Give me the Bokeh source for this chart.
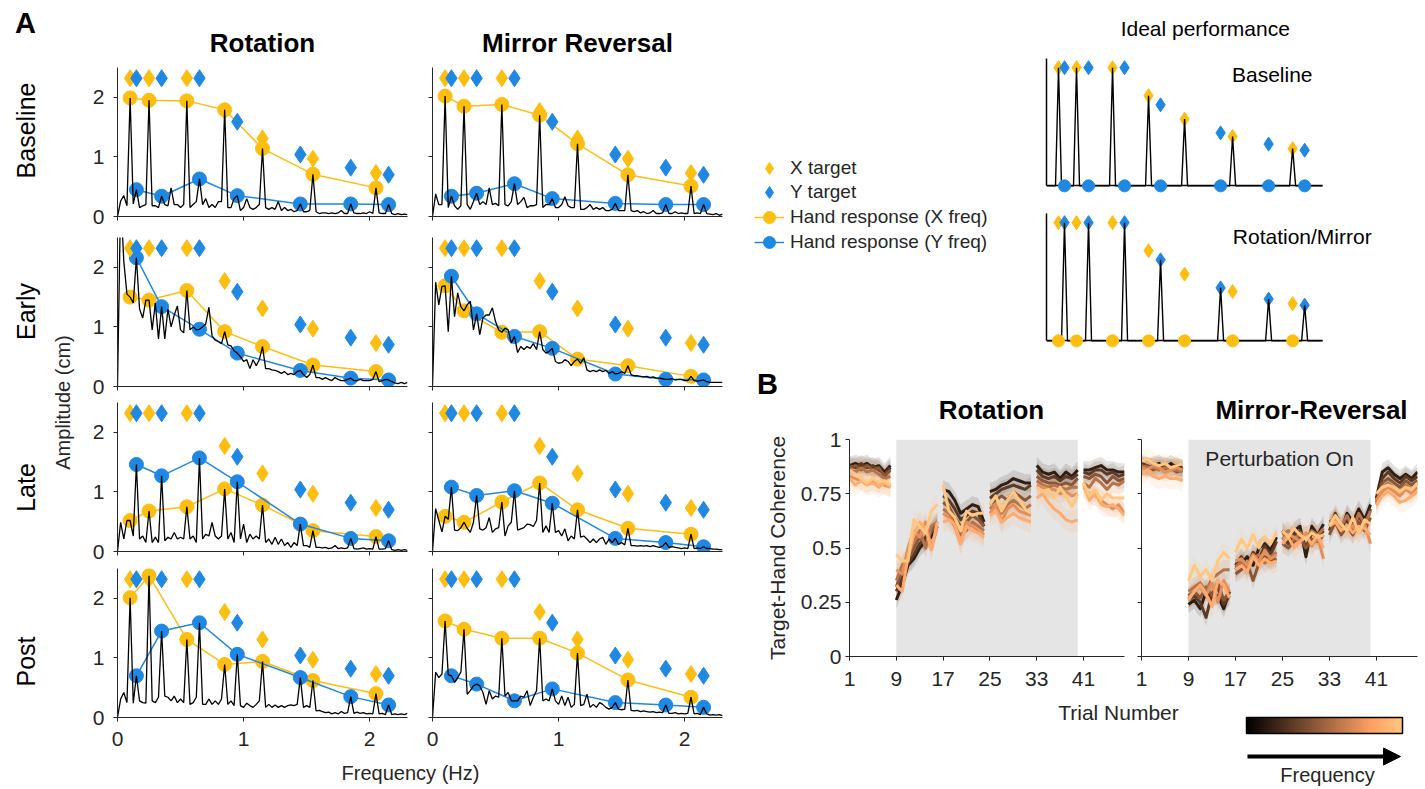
import numpy as np
from bokeh.plotting import figure
from bokeh.layouts import row, column
from bokeh.models import (Range1d, FixedTicker, Label, BoxAnnotation, Legend, LegendItem,
                          ColorBar, LinearColorMapper, Arrow, NormalHead)
from bokeh.embed import file_html
from bokeh.resources import INLINE

FONT = "Liberation Sans"
AX = "#262626"
YEL = "#FDBE12"
BLU = "#1F88E2"

# ---------------- DATA ----------------
freq_grid = [round(i * 0.025, 3) for i in range(93)]
x_freqs = [0.1, 0.25, 0.55, 0.85, 1.15, 1.55, 2.05]
y_freqs = [0.15, 0.35, 0.65, 0.95, 1.45, 1.85, 2.15]
x_target_amp = [2.32, 2.32, 2.32, 1.77, 1.31, 0.97, 0.73]
y_target_amp = [2.32, 2.32, 2.32, 1.59, 1.04, 0.82, 0.70]

rot_baseline_xhand = [1.99, 1.95, 1.94, 1.79, 1.14, 0.71, 0.48]
rot_baseline_yhand = [0.45, 0.34, 0.63, 0.35, 0.21, 0.21, 0.20]
rot_baseline_spec = [
    0, 0.26, 0.35, 0.18, 1.99, 0.21, 0.45, 0.15, 0.18, 0.20,
    1.95, 0.18, 0.18, 0.15, 0.34, 0.20, 0.18, 0.48, 0.20, 0.20,
    0.15, 0.20, 1.94, 0.15, 0.20, 0.25, 0.63, 0.20, 0.30, 0.15,
    0.20, 0.15, 0.25, 0.25, 1.79, 0.15, 0.15, 0.30, 0.35, 0.10,
    0.15, 0.30, 0.15, 0.12, 0.15, 0.20, 1.14, 0.15, 0.12, 0.15,
    0.12, 0.25, 0.10, 0.15, 0.10, 0.12, 0.08, 0.10, 0.21, 0.08,
    0.08, 0.10, 0.71, 0.08, 0.05, 0.06, 0.06, 0.05, 0.06, 0.05,
    0.06, 0.10, 0.05, 0.05, 0.21, 0.06, 0.05, 0.05, 0.06, 0.05,
    0.08, 0.05, 0.48, 0.06, 0.05, 0.05, 0.20, 0.05, 0.03, 0.05,
    0.03, 0.04, 0.03]

mir_baseline_xhand = [2.02, 1.85, 1.88, 1.70, 1.22, 0.70, 0.51]
mir_baseline_yhand = [0.34, 0.39, 0.55, 0.30, 0.22, 0.20, 0.20]
mir_baseline_spec = [
    0, 0.38, 0.20, 0.20, 2.02, 0.15, 0.34, 0.18, 0.12, 0.18,
    1.85, 0.20, 0.12, 0.25, 0.39, 0.20, 0.25, 0.20, 0.48, 0.20,
    0.22, 0.18, 1.88, 0.20, 0.18, 0.25, 0.55, 0.20, 0.25, 0.32,
    0.15, 0.18, 0.18, 0.20, 1.70, 0.15, 0.20, 0.20, 0.30, 0.15,
    0.15, 0.20, 0.33, 0.18, 0.15, 0.15, 1.22, 0.12, 0.12, 0.15,
    0.20, 0.12, 0.15, 0.12, 0.15, 0.10, 0.10, 0.12, 0.22, 0.10,
    0.10, 0.10, 0.70, 0.10, 0.08, 0.10, 0.06, 0.08, 0.05, 0.06,
    0.10, 0.05, 0.05, 0.06, 0.20, 0.05, 0.05, 0.08, 0.05, 0.06,
    0.05, 0.05, 0.51, 0.05, 0.06, 0.05, 0.20, 0.05, 0.04, 0.03,
    0.05, 0.02, 0.04]

rot_early_xhand = [1.50, 1.45, 1.61, 0.92, 0.67, 0.36, 0.25]
rot_early_yhand = [2.16, 1.34, 0.96, 0.56, 0.27, 0.14, 0.11]
rot_early_spec = [
    0, 3.20, 2.10, 1.55, 1.50, 1.40, 2.16, 1.30, 1.15, 1.45,
    1.45, 0.95, 1.40, 0.80, 1.34, 0.80, 1.30, 1.00, 1.20, 1.35,
    0.95, 0.90, 1.61, 0.95, 1.00, 0.95, 0.96, 1.00, 1.05, 1.33,
    0.85, 0.78, 0.75, 0.72, 0.92, 0.70, 0.68, 0.60, 0.56, 0.50,
    0.42, 0.45, 0.30, 0.45, 0.35, 0.45, 0.67, 0.30, 0.30, 0.28,
    0.27, 0.25, 0.22, 0.25, 0.20, 0.22, 0.20, 0.25, 0.27, 0.20,
    0.15, 0.20, 0.36, 0.15, 0.15, 0.12, 0.15, 0.12, 0.10, 0.15,
    0.12, 0.10, 0.10, 0.12, 0.14, 0.10, 0.10, 0.12, 0.10, 0.10,
    0.10, 0.12, 0.25, 0.08, 0.10, 0.12, 0.11, 0.08, 0.06, 0.05,
    0.07, 0.05, 0.07]

mir_early_xhand = [1.69, 1.27, 0.91, 0.92, 0.46, 0.35, 0.17]
mir_early_yhand = [1.85, 1.22, 0.84, 0.64, 0.21, 0.12, 0.11]
mir_early_spec = [
    0, 1.75, 1.37, 1.68, 1.69, 0.92, 1.85, 1.17, 1.57, 1.34,
    1.27, 1.37, 1.43, 0.95, 1.22, 0.87, 1.15, 1.20, 1.20, 1.32,
    1.09, 0.95, 0.91, 0.98, 0.95, 0.73, 0.84, 0.57, 0.67, 0.62,
    0.67, 0.64, 0.72, 0.62, 0.92, 0.62, 0.56, 0.59, 0.64, 0.42,
    0.39, 0.40, 0.45, 0.42, 0.35, 0.42, 0.46, 0.39, 0.48, 0.28,
    0.25, 0.27, 0.25, 0.28, 0.25, 0.27, 0.22, 0.25, 0.21, 0.22,
    0.25, 0.22, 0.35, 0.20, 0.18, 0.18, 0.17, 0.16, 0.17, 0.15,
    0.16, 0.14, 0.14, 0.13, 0.12, 0.12, 0.13, 0.11, 0.12, 0.12,
    0.10, 0.10, 0.17, 0.10, 0.09, 0.10, 0.11, 0.08, 0.07, 0.07,
    0.07, 0.07, 0.07]

rot_late_xhand = [0.52, 0.68, 0.75, 1.05, 0.78, 0.35, 0.25]
rot_late_yhand = [1.46, 1.27, 1.57, 1.17, 0.46, 0.22, 0.18]
rot_late_spec = [
    0, 0.49, 0.21, 0.52, 0.52, 0.26, 1.46, 0.21, 0.26, 0.15,
    0.68, 0.15, 0.24, 0.15, 1.27, 0.18, 0.24, 0.21, 0.32, 0.21,
    0.24, 0.21, 0.75, 0.21, 0.26, 0.15, 1.57, 0.21, 0.29, 0.26,
    0.49, 0.26, 0.21, 0.26, 1.05, 0.21, 0.32, 0.15, 1.17, 0.21,
    0.46, 0.15, 0.29, 0.21, 0.26, 0.21, 0.78, 0.15, 0.21, 0.12,
    0.24, 0.12, 0.21, 0.10, 0.15, 0.07, 0.15, 0.10, 0.46, 0.10,
    0.10, 0.07, 0.35, 0.07, 0.07, 0.06, 0.07, 0.05, 0.06, 0.10,
    0.05, 0.06, 0.05, 0.06, 0.22, 0.05, 0.04, 0.05, 0.06, 0.04,
    0.05, 0.04, 0.25, 0.04, 0.04, 0.05, 0.18, 0.03, 0.02, 0.03,
    0.02, 0.03, 0.02]

mir_late_xhand = [0.59, 0.49, 0.83, 1.15, 0.70, 0.39, 0.29]
mir_late_yhand = [1.08, 0.94, 1.02, 0.81, 0.22, 0.15, 0.08]
mir_late_spec = [
    0, 0.72, 0.52, 0.33, 0.59, 0.54, 1.08, 0.36, 0.35, 0.40,
    0.49, 0.39, 0.32, 0.49, 0.94, 0.38, 0.36, 0.40, 0.57, 0.32,
    0.38, 0.40, 0.83, 0.26, 0.43, 0.49, 1.02, 0.36, 0.38, 0.40,
    0.46, 0.45, 0.42, 0.52, 1.15, 0.32, 0.43, 0.32, 0.81, 0.32,
    0.35, 0.26, 0.38, 0.18, 0.26, 0.21, 0.70, 0.24, 0.26, 0.21,
    0.15, 0.21, 0.15, 0.21, 0.24, 0.12, 0.21, 0.15, 0.22, 0.12,
    0.15, 0.11, 0.39, 0.10, 0.10, 0.09, 0.10, 0.09, 0.10, 0.08,
    0.10, 0.08, 0.07, 0.09, 0.15, 0.07, 0.08, 0.07, 0.06, 0.05,
    0.06, 0.05, 0.29, 0.05, 0.06, 0.05, 0.08, 0.05, 0.05, 0.04,
    0.04, 0.03, 0.03]

rot_post_xhand = [2.01, 2.38, 1.31, 0.89, 0.94, 0.62, 0.40]
rot_post_yhand = [0.70, 1.45, 1.59, 1.06, 0.67, 0.35, 0.21]
rot_post_spec = [
    0, 0.31, 0.42, 0.25, 2.01, 0.24, 0.70, 0.28, 0.25, 0.24,
    2.38, 0.28, 0.25, 0.34, 1.45, 0.36, 0.34, 0.28, 0.36, 0.25,
    0.31, 0.25, 1.31, 0.22, 0.25, 0.34, 1.59, 0.22, 0.22, 0.31,
    0.22, 0.28, 0.22, 0.31, 0.89, 0.22, 0.28, 0.20, 1.06, 0.20,
    0.17, 0.24, 0.20, 0.17, 0.22, 0.28, 0.94, 0.17, 0.22, 0.17,
    0.21, 0.17, 0.20, 0.17, 0.20, 0.21, 0.20, 0.22, 0.67, 0.17,
    0.20, 0.17, 0.62, 0.11, 0.12, 0.10, 0.08, 0.09, 0.06, 0.08,
    0.06, 0.10, 0.07, 0.08, 0.35, 0.07, 0.09, 0.07, 0.08, 0.06,
    0.07, 0.06, 0.40, 0.06, 0.07, 0.05, 0.21, 0.05, 0.06, 0.05,
    0.06, 0.05, 0.07]

mir_post_xhand = [1.62, 1.48, 1.33, 1.33, 1.08, 0.63, 0.34]
mir_post_yhand = [0.70, 0.56, 0.28, 0.48, 0.25, 0.21, 0.17]
mir_post_spec = [
    0, 0.76, 0.67, 0.73, 1.62, 0.72, 0.70, 0.59, 0.67, 0.76,
    1.48, 0.39, 0.45, 0.53, 0.56, 0.53, 0.42, 0.22, 0.45, 0.31,
    0.36, 0.34, 1.33, 0.36, 0.42, 0.28, 0.28, 0.28, 0.36, 0.34,
    0.45, 0.20, 0.34, 0.45, 1.33, 0.28, 0.31, 0.28, 0.48, 0.28,
    0.22, 0.36, 0.20, 0.34, 0.17, 0.22, 1.08, 0.20, 0.22, 0.39,
    0.17, 0.22, 0.17, 0.25, 0.22, 0.17, 0.14, 0.17, 0.25, 0.14,
    0.13, 0.14, 0.63, 0.12, 0.11, 0.12, 0.10, 0.11, 0.10, 0.09,
    0.10, 0.08, 0.09, 0.08, 0.21, 0.07, 0.07, 0.08, 0.06, 0.07,
    0.06, 0.07, 0.34, 0.06, 0.07, 0.05, 0.17, 0.06, 0.04, 0.05,
    0.04, 0.05, 0.03]

# ideal performance
ideal_baseline_xhand = [2.32, 2.32, 2.32, 1.77, 1.31, 0.97, 0.73]
ideal_baseline_yhand = [0, 0, 0, 0, 0, 0, 0]
ideal_perturb_xhand = [0, 0, 0, 0, 0, 0, 0]
ideal_perturb_yhand = [2.32, 2.32, 2.32, 1.59, 1.04, 0.82, 0.70]

# panel B: coherence per frequency (low -> high), trials 1..48
trials = list(range(1, 49))
trial_ticks = [1, 9, 17, 25, 33, 41]
perturb_trials = [9, 40]
rot_coh = [
    [0.88, 0.89, 0.88, 0.89, 0.87, 0.88, 0.85, 0.88, 0.26, 0.33, 0.42, 0.45, 0.50, 0.53, 0.55, 0.60,
     0.77, 0.76, 0.72, 0.66, 0.68, 0.70, 0.69, 0.62, 0.76, 0.77, 0.79, 0.80, 0.82, 0.81, 0.80, 0.80,
     0.88, 0.85, 0.84, 0.85, 0.82, 0.85, 0.83, 0.86, 0.86, 0.86, 0.87, 0.88, 0.86, 0.86, 0.85, 0.85],
    [0.88, 0.87, 0.89, 0.87, 0.88, 0.86, 0.84, 0.87, 0.30, 0.36, 0.43, 0.47, 0.52, 0.55, 0.58, 0.62,
     0.74, 0.72, 0.68, 0.63, 0.65, 0.67, 0.66, 0.60, 0.73, 0.75, 0.77, 0.78, 0.79, 0.78, 0.77, 0.79,
     0.86, 0.83, 0.82, 0.83, 0.81, 0.83, 0.82, 0.84, 0.85, 0.84, 0.86, 0.86, 0.84, 0.85, 0.83, 0.84],
    [0.87, 0.88, 0.86, 0.88, 0.86, 0.87, 0.83, 0.86, 0.32, 0.40, 0.45, 0.50, 0.55, 0.52, 0.58, 0.61,
     0.71, 0.69, 0.64, 0.60, 0.62, 0.65, 0.63, 0.60, 0.70, 0.72, 0.74, 0.72, 0.76, 0.74, 0.72, 0.74,
     0.83, 0.81, 0.80, 0.80, 0.79, 0.80, 0.79, 0.82, 0.83, 0.82, 0.84, 0.83, 0.80, 0.83, 0.81, 0.82],
    [0.86, 0.85, 0.87, 0.85, 0.86, 0.84, 0.82, 0.83, 0.35, 0.42, 0.46, 0.53, 0.58, 0.50, 0.60, 0.62,
     0.68, 0.66, 0.62, 0.56, 0.58, 0.62, 0.60, 0.58, 0.68, 0.70, 0.66, 0.70, 0.72, 0.70, 0.68, 0.70,
     0.81, 0.79, 0.78, 0.79, 0.78, 0.77, 0.78, 0.78, 0.80, 0.78, 0.82, 0.80, 0.77, 0.80, 0.79, 0.81],
    [0.83, 0.82, 0.81, 0.80, 0.81, 0.80, 0.79, 0.78, 0.40, 0.38, 0.50, 0.58, 0.55, 0.62, 0.50, 0.60,
     0.66, 0.64, 0.60, 0.52, 0.62, 0.60, 0.58, 0.56, 0.66, 0.70, 0.62, 0.68, 0.70, 0.67, 0.66, 0.65,
     0.79, 0.78, 0.77, 0.77, 0.75, 0.76, 0.74, 0.75, 0.78, 0.75, 0.74, 0.72, 0.70, 0.68, 0.70, 0.66],
    [0.82, 0.79, 0.81, 0.79, 0.80, 0.78, 0.80, 0.78, 0.33, 0.30, 0.46, 0.56, 0.62, 0.59, 0.49, 0.62,
     0.62, 0.63, 0.61, 0.52, 0.60, 0.58, 0.57, 0.55, 0.65, 0.67, 0.62, 0.64, 0.66, 0.64, 0.63, 0.62,
     0.73, 0.75, 0.71, 0.68, 0.66, 0.63, 0.62, 0.63, 0.79, 0.72, 0.75, 0.70, 0.69, 0.70, 0.68, 0.65],
    [0.86, 0.84, 0.82, 0.80, 0.82, 0.80, 0.81, 0.79, 0.47, 0.44, 0.44, 0.63, 0.60, 0.57, 0.67, 0.70,
     0.79, 0.67, 0.64, 0.58, 0.67, 0.65, 0.66, 0.66, 0.70, 0.74, 0.67, 0.72, 0.76, 0.72, 0.68, 0.66,
     0.78, 0.76, 0.77, 0.73, 0.78, 0.74, 0.69, 0.75, 0.80, 0.74, 0.77, 0.72, 0.75, 0.73, 0.73, 0.73],
]
mir_coh = [
    [0.88, 0.87, 0.88, 0.89, 0.87, 0.89, 0.87, 0.87, 0.24, 0.26, 0.22, 0.30, 0.27, 0.28, 0.22, 0.30,
     0.40, 0.43, 0.46, 0.42, 0.50, 0.52, 0.49, 0.55, 0.58, 0.54, 0.58, 0.60, 0.46, 0.60, 0.56, 0.61,
     0.60, 0.64, 0.58, 0.66, 0.62, 0.68, 0.63, 0.70, 0.73, 0.85, 0.87, 0.84, 0.82, 0.84, 0.82, 0.85],
    [0.89, 0.88, 0.87, 0.88, 0.88, 0.87, 0.88, 0.86, 0.26, 0.28, 0.25, 0.18, 0.29, 0.32, 0.24, 0.28,
     0.42, 0.46, 0.41, 0.48, 0.45, 0.51, 0.47, 0.53, 0.55, 0.52, 0.56, 0.58, 0.50, 0.57, 0.55, 0.58,
     0.58, 0.66, 0.60, 0.63, 0.58, 0.65, 0.60, 0.68, 0.72, 0.82, 0.85, 0.82, 0.80, 0.83, 0.81, 0.83],
    [0.87, 0.88, 0.86, 0.87, 0.86, 0.87, 0.85, 0.86, 0.28, 0.30, 0.27, 0.32, 0.28, 0.34, 0.26, 0.30,
     0.38, 0.40, 0.43, 0.35, 0.43, 0.46, 0.44, 0.45, 0.52, 0.50, 0.53, 0.55, 0.50, 0.54, 0.53, 0.56,
     0.56, 0.62, 0.56, 0.60, 0.56, 0.62, 0.58, 0.64, 0.71, 0.80, 0.82, 0.80, 0.78, 0.81, 0.79, 0.81],
    [0.88, 0.87, 0.87, 0.86, 0.87, 0.86, 0.86, 0.85, 0.30, 0.32, 0.34, 0.30, 0.36, 0.38, 0.40, 0.40,
     0.41, 0.44, 0.40, 0.45, 0.47, 0.43, 0.46, 0.48, 0.56, 0.58, 0.54, 0.57, 0.55, 0.58, 0.56, 0.59,
     0.62, 0.64, 0.60, 0.65, 0.59, 0.66, 0.61, 0.67, 0.70, 0.78, 0.80, 0.78, 0.76, 0.79, 0.77, 0.80],
    [0.87, 0.86, 0.88, 0.87, 0.85, 0.86, 0.87, 0.86, 0.27, 0.30, 0.32, 0.28, 0.34, 0.25, 0.35, 0.30,
     0.44, 0.45, 0.42, 0.47, 0.44, 0.49, 0.45, 0.47, 0.54, 0.56, 0.55, 0.53, 0.57, 0.51, 0.55, 0.45,
     0.61, 0.63, 0.61, 0.58, 0.60, 0.57, 0.61, 0.52, 0.72, 0.76, 0.78, 0.76, 0.74, 0.77, 0.75, 0.78],
    [0.84, 0.86, 0.83, 0.82, 0.83, 0.82, 0.82, 0.81, 0.26, 0.30, 0.33, 0.29, 0.23, 0.35, 0.33, 0.27,
     0.40, 0.42, 0.39, 0.46, 0.42, 0.45, 0.43, 0.44, 0.52, 0.55, 0.50, 0.53, 0.55, 0.52, 0.56, 0.50,
     0.60, 0.62, 0.58, 0.60, 0.57, 0.60, 0.59, 0.56, 0.70, 0.74, 0.76, 0.74, 0.71, 0.72, 0.74, 0.76],
    [0.90, 0.91, 0.89, 0.88, 0.89, 0.87, 0.88, 0.89, 0.35, 0.42, 0.37, 0.40, 0.35, 0.44, 0.48, 0.45,
     0.48, 0.54, 0.50, 0.56, 0.50, 0.55, 0.52, 0.57, 0.58, 0.55, 0.59, 0.56, 0.54, 0.57, 0.55, 0.56,
     0.60, 0.65, 0.61, 0.58, 0.64, 0.57, 0.63, 0.61, 0.75, 0.78, 0.79, 0.78, 0.76, 0.78, 0.77, 0.80],
]
rot_coh_sem = [0.04, 0.04, 0.04, 0.045, 0.045, 0.05, 0.05]
mir_coh_sem = [0.04, 0.04, 0.04, 0.045, 0.045, 0.05, 0.05]


# ---------------- helpers ----------------
def copper(t):
    r, g, b = min(1.0, 1.25 * t), min(1.0, 0.7812 * t), min(1.0, 0.4975 * t)
    return "#%02x%02x%02x" % (round(r * 255), round(g * 255), round(b * 255))


freq_colors = [copper(t) for t in np.linspace(0.15, 1.0, 7)]
copper_palette = [copper(t) for t in np.linspace(0.0, 1.0, 256)]


def base_fig(w, h, xr, yr, bl, br, bt, bb):
    p = figure(width=w, height=h, x_range=xr, y_range=yr,
               min_border_left=bl, min_border_right=br, min_border_top=bt, min_border_bottom=bb,
               toolbar_location=None, tools="", output_backend="svg", title=None)
    p.outline_line_color = None
    p.xgrid.visible = False
    p.ygrid.visible = False
    return p


def style_axis(ax, show, standoff, size="21px", color=AX, width=1):
    ax.axis_line_color = color
    ax.axis_line_width = width
    ax.major_tick_line_color = color
    ax.minor_tick_line_color = None
    ax.major_tick_out = 4
    ax.major_tick_in = 0
    ax.major_label_text_font = FONT
    if show:
        ax.major_label_text_color = AX
        ax.major_label_text_font_size = size
        ax.major_label_standoff = standoff
    else:
        ax.major_label_text_color = None
        ax.major_label_text_font_size = "0px"
        ax.major_label_standoff = 0


def canvas(w, h, x0, y0):
    # a text-only panel whose data coordinates are page pixels
    p = figure(width=w, height=h, x_range=Range1d(x0, x0 + w), y_range=Range1d(y0 + h, y0),
               x_axis_type=None, y_axis_type=None, min_border_left=0, min_border_right=0,
               min_border_top=0, min_border_bottom=0, toolbar_location=None, tools="",
               output_backend="svg", title=None)
    p.outline_line_color = None
    return p


def text(p, x, y, s, size, bold=False, angle=0.0, align="center", color="#000000"):
    p.add_layout(Label(x=x, y=y, text=s, text_font=FONT, text_font_size=size,
                       text_font_style="bold" if bold else "normal", text_align=align,
                       text_baseline="middle", angle=angle, text_color=color))


def amp_panel(spec, xh, yh, w, h, bl, br, bt, bb, show_x, show_y):
    p = base_fig(w, h, Range1d(0, 2.3), Range1d(0, 2.5), bl, br, bt, bb)
    p.line(x_freqs, xh, color=YEL, line_width=1.5)
    p.scatter(x_freqs, xh, size=14, color=YEL)
    p.line(y_freqs, yh, color=BLU, line_width=1.5)
    p.scatter(y_freqs, yh, size=14, color=BLU)
    p.scatter(x_freqs, x_target_amp, marker="diamond", size=17, color=YEL)
    p.scatter(y_freqs, y_target_amp, marker="diamond", size=17, color=BLU)
    p.line(freq_grid, spec, color="black", line_width=1.3)
    p.xaxis.ticker = FixedTicker(ticks=[0, 1, 2])
    p.yaxis.ticker = FixedTicker(ticks=[0, 1, 2])
    style_axis(p.xaxis[0], show_x, 10)
    style_axis(p.yaxis[0], show_y, 9)
    return p


def ideal_spectrum(freqs, amps):
    spec = [0.0] * len(freq_grid)
    for f, a in zip(freqs, amps):
        spec[int(round(f / 0.025))] = a
    return spec


def ideal_panel(xh, yh, h, bt, bb):
    # x range wider than the axis so the panel note can sit to the right
    p = base_fig(407, h, Range1d(0, 2.99), Range1d(-0.15, 2.5), 36, 12, bt, bb)
    p.scatter(x_freqs, x_target_amp, marker="diamond", size=14, color=YEL)
    p.scatter(y_freqs, y_target_amp, marker="diamond", size=14, color=BLU)
    spec = ideal_spectrum(x_freqs, xh)
    spec2 = ideal_spectrum(y_freqs, yh)
    spec = [a + b for a, b in zip(spec, spec2)]
    p.line(freq_grid, spec, color="black", line_width=1.4)
    xz = [f for f, v in zip(x_freqs, xh) if v == 0]
    yz = [f for f, v in zip(y_freqs, yh) if v == 0]
    if xz:
        p.scatter(xz, [0] * len(xz), size=12, color=YEL, level="overlay")
    if yz:
        p.scatter(yz, [0] * len(yz), size=12, color=BLU, level="overlay")
    p.xaxis.ticker = FixedTicker(ticks=[])
    p.yaxis.ticker = FixedTicker(ticks=[])
    for ax in (p.xaxis[0], p.yaxis[0]):
        style_axis(ax, False, 0, color="black", width=1.5)
        ax.major_tick_out = 0
    p.xaxis.fixed_location = 0
    p.xaxis.bounds = (0, 2.3)
    p.yaxis.bounds = (0, 2.5)
    return p


def coh_panel(data, sems, w, bl, br, show_y):
    p = base_fig(w, 274, Range1d(1, 48), Range1d(0, 1), bl, br, 13, 44)
    p.add_layout(BoxAnnotation(left=perturb_trials[0], right=perturb_trials[1],
                               fill_color="#E5E5E5", fill_alpha=1.0, line_alpha=0,
                               level="underlay"))
    blocks = [(i, i + 8) for i in range(0, 48, 8)]
    for k in range(7):
        bx, by = [], []
        for a, b in blocks:
            tr = trials[a:b]
            v = data[k][a:b]
            bx.append(tr + tr[::-1])
            by.append([y + sems[k] for y in v] + [y - sems[k] for y in v[::-1]])
        p.patches(bx, by, fill_color=freq_colors[k], fill_alpha=0.13, line_color=None)
    for k in range(7):
        xs = [trials[a:b] for a, b in blocks]
        ys = [data[k][a:b] for a, b in blocks]
        p.multi_line(xs, ys, line_color=freq_colors[k], line_width=3, line_join="round")
    p.xaxis.ticker = FixedTicker(ticks=trial_ticks)
    p.yaxis.ticker = FixedTicker(ticks=[0, 0.25, 0.5, 0.75, 1])
    p.yaxis.major_label_overrides = {0: "0", 0.25: "0.25", 0.5: "0.5", 0.75: "0.75", 1: "1"}
    style_axis(p.xaxis[0], True, 11)
    style_axis(p.yaxis[0], show_y, 4)
    return p


# ---------------- Panel A ----------------
strip = canvas(80, 788, 0, 0)
text(strip, 25, 22, "A", "29px", bold=True)
for name, yc in (("Baseline", 130), ("Early", 311), ("Late", 487), ("Post", 661)):
    text(strip, 25, yc, name, "25px", angle=np.pi / 2)
text(strip, 62, 402, "Amplitude (cm)", "20px", angle=np.pi / 2, color=AX)

headA = canvas(660, 60, 80, 0)
text(headA, 262, 42, "Rotation", "26px", bold=True)
text(headA, 577, 42, "Mirror Reversal", "26px", bold=True)

row_specs = [(168, 7, 12), (170, 9, 12), (165, 4, 12), (194, 5, 40)]
rows_data = [
    (rot_baseline_spec, rot_baseline_xhand, rot_baseline_yhand,
     mir_baseline_spec, mir_baseline_xhand, mir_baseline_yhand),
    (rot_early_spec, rot_early_xhand, rot_early_yhand,
     mir_early_spec, mir_early_xhand, mir_early_yhand),
    (rot_late_spec, rot_late_xhand, rot_late_yhand,
     mir_late_spec, mir_late_xhand, mir_late_yhand),
    (rot_post_spec, rot_post_xhand, rot_post_yhand,
     mir_post_spec, mir_post_xhand, mir_post_yhand),
]
a_rows = []
for i, ((h, bt, bb), d) in enumerate(zip(row_specs, rows_data)):
    last = i == 3
    pl = amp_panel(d[0], d[1], d[2], 340, h, 37, 13, bt, bb, last, True)
    pr = amp_panel(d[3], d[4], d[5], 320, h, 12, 18, bt, bb, last, False)
    a_rows.append(row(pl, pr))

footA = canvas(660, 31, 80, 757)
text(footA, 410, 772, "Frequency (Hz)", "20px", color=AX)
block_a = row(strip, column(headA, *a_rows, footA))

# ---------------- legend + ideal ----------------
leg = canvas(270, 360, 740, 0)
r_xt = leg.scatter(x_freqs, x_target_amp, marker="diamond", size=17, color=YEL)
r_yt = leg.scatter(y_freqs, y_target_amp, marker="diamond", size=17, color=BLU)
r_xl = leg.line(x_freqs, rot_baseline_xhand, color=YEL, line_width=1.5)
r_xc = leg.scatter(x_freqs, rot_baseline_xhand, size=14, color=YEL)
r_yl = leg.line(y_freqs, rot_baseline_yhand, color=BLU, line_width=1.5)
r_yc = leg.scatter(y_freqs, rot_baseline_yhand, size=14, color=BLU)
legend_entries = [("X target", [r_xt]), ("Y target", [r_yt]),
                  ("Hand response (X freq)", [r_xl, r_xc]),
                  ("Hand response (Y freq)", [r_yl, r_yc])]
for i, (lab, rs) in enumerate(legend_entries):
    yc = 168 + 24.5 * i
    lg = Legend(items=[LegendItem(label=lab, renderers=rs)],
                location=(14, int(round(360 - yc - 20))), glyph_width=30, glyph_height=40,
                label_standoff=6, padding=0, margin=0, border_line_color=None,
                background_fill_alpha=0, label_text_font=FONT, label_text_font_size="19px",
                label_text_color=AX, label_height=20)
    leg.add_layout(lg, "center")

headI = canvas(407, 50, 1010, 0)
text(headI, 1190, 28, "Ideal performance", "21px")
ideal1 = ideal_panel(ideal_baseline_xhand, ideal_baseline_yhand, 150, 8, 7)
text(ideal1, 1.88, 2.19, "Baseline", "21px")
ideal2 = ideal_panel(ideal_perturb_xhand, ideal_perturb_yhand, 160, 13, 12)
text(ideal2, 2.13, 2.05, "Rotation/Mirror", "21px")
top_right = row(leg, column(headI, ideal1, ideal2))

# ---------------- Panel B ----------------
headB = canvas(683, 66, 740, 360)
text(headB, 767, 383, "B", "29px", bold=True)
text(headB, 991, 409, "Rotation", "26px", bold=True)
text(headB, 1311, 409, "Mirror-Reversal", "26px", bold=True)

b_rot = coh_panel(rot_coh, rot_coh_sem, 390, 109, 6, True)
b_rot.yaxis.axis_label = "Target-Hand Coherence"
b_rot.yaxis.axis_label_text_font = FONT
b_rot.yaxis.axis_label_text_font_size = "21px"
b_rot.yaxis.axis_label_text_font_style = "normal"
b_rot.yaxis.axis_label_text_color = AX
b_rot.yaxis.axis_label_standoff = 9
b_mir = coh_panel(mir_coh, mir_coh_sem, 293, 11, 6, False)
text(b_mir, (perturb_trials[0] + perturb_trials[1]) / 2, 0.912, "Perturbation On", "21px", color=AX)

footB = canvas(683, 88, 740, 700)
text(footB, 1118, 712, "Trial Number", "21px", color=AX)
text(footB, 1327, 774, "Frequency", "20px", color=AX)
mapper = LinearColorMapper(palette=copper_palette, low=0, high=1)
cbar = ColorBar(color_mapper=mapper, orientation="horizontal", width=156, height=16,
                location=(506, 55), padding=0, ticker=FixedTicker(ticks=[]),
                major_label_text_font_size="0px", major_tick_line_color=None,
                major_tick_out=0, label_standoff=0, bar_line_color="black", bar_line_width=1.5,
                background_fill_alpha=0, border_line_color=None, title=None)
footB.add_layout(cbar, "center")
footB.add_layout(Arrow(end=NormalHead(size=17, fill_color="black", line_color="black"),
                       x_start=1247, y_start=756, x_end=1400, y_end=756,
                       line_width=4, line_color="black"))

block_b = column(headB, row(b_rot, b_mir), footB)
block_right = column(top_right, block_b)

page = row(block_a, block_right)
open("out.html", "w").write(file_html(page, INLINE, "chart"))
